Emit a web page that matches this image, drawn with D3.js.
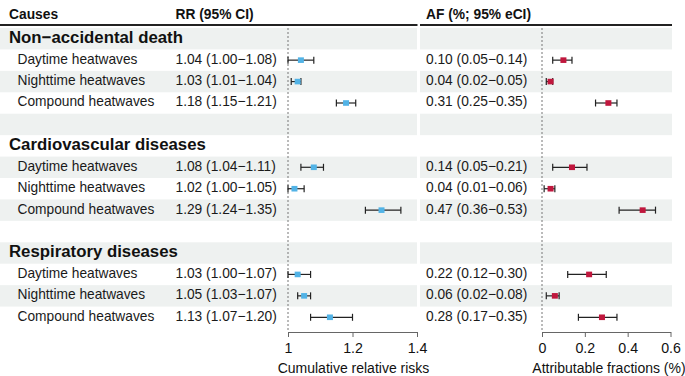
<!DOCTYPE html>
<html>
<head>
<meta charset="utf-8">
<script src="https://cdn.jsdelivr.net/npm/d3@7"></script>
<style>
body{margin:0;background:#fff;}
svg{display:block;font-family:"Liberation Sans",Arial,sans-serif;}
</style>
</head>
<body>
<script>
const W = 685, H = 376;
// data
const causes = ["Non\u2212accidental death", "Cardiovascular diseases", "Respiratory diseases"];
const subtypes = ["Daytime heatwaves", "Nighttime heatwaves", "Compound heatwaves"];
const rr   = [[1.04,1.03,1.18],[1.08,1.02,1.29],[1.03,1.05,1.13]];
const rrLo = [[1.00,1.01,1.15],[1.04,1.00,1.24],[1.00,1.03,1.07]];
const rrHi = [[1.08,1.04,1.21],[1.11,1.05,1.35],[1.07,1.07,1.20]];
const af   = [[0.10,0.04,0.31],[0.14,0.04,0.47],[0.22,0.06,0.28]];
const afLo = [[0.05,0.02,0.25],[0.05,0.01,0.36],[0.12,0.02,0.17]];
const afHi = [[0.14,0.05,0.35],[0.21,0.06,0.53],[0.30,0.08,0.35]];
const rrTicks = [1, 1.2, 1.4];
const afTicks = [0, 0.2, 0.4, 0.6];

const fmt = d3.format(".2f");
const ci = (v, lo, hi) => fmt(v) + " (" + fmt(lo) + "\u2212" + fmt(hi) + ")";

// build rows: group header, 3 subtypes, blank
let rows = [];
causes.forEach((c, g) => {
    rows.push({type: "group", label: c});
    subtypes.forEach((s, i) => {
        rows.push({type: "item", label: s, rr: rr[g][i], rrLo: rrLo[g][i], rrHi: rrHi[g][i],
            af: af[g][i], afLo: afLo[g][i], afHi: afHi[g][i]});
    });
    if (g < causes.length - 1) rows.push({type: "blank"});
});

const SVG = d3.select("body").append("svg").attr("width", W).attr("height", H);

const y = d3.scaleBand().domain(d3.range(rows.length)).range([28, 328]);
const xRR = d3.scaleLinear().domain([1, 1.4]).range([288, 417]);
const xAF = d3.scaleLinear().domain([0, 0.6]).range([542, 670.5]);

// striped backgrounds
rows.forEach((r, i) => {
    if (i % 2 == 0) {
        SVG.append("rect").attr("x", 0).attr("y", y(i)).attr("width", 417).attr("height", y.bandwidth()).attr("fill", "#eef1f0");
        SVG.append("rect").attr("x", 420).attr("y", y(i)).attr("width", 252).attr("height", y.bandwidth()).attr("fill", "#eef1f0");
    }
});

// header
SVG.append("text").attr("x", 9).attr("y", 18.5).attr("font-size", 13.8).attr("font-weight", "bold").attr("fill", "#111").text("Causes");
SVG.append("text").attr("x", 175.5).attr("y", 18.5).attr("font-size", 13.8).attr("font-weight", "bold").attr("fill", "#111").text("RR (95% CI)");
SVG.append("text").attr("x", 426).attr("y", 18.5).attr("font-size", 13.8).attr("font-weight", "bold").attr("fill", "#111").text("AF (%; 95% eCI)");
SVG.append("line").attr("x1", 0).attr("x2", 417.5).attr("y1", 25).attr("y2", 25).attr("stroke", "#222").attr("stroke-width", 1.8);
SVG.append("line").attr("x1", 420).attr("x2", 672).attr("y1", 25).attr("y2", 25).attr("stroke", "#222").attr("stroke-width", 1.8);

// reference lines
SVG.append("line").attr("x1", xRR(1)).attr("x2", xRR(1)).attr("y1", 28).attr("y2", 332)
    .attr("stroke", "#777").attr("stroke-width", 1).attr("stroke-dasharray", "2,2");
SVG.append("line").attr("x1", xAF(0)).attr("x2", xAF(0)).attr("y1", 28).attr("y2", 332)
    .attr("stroke", "#777").attr("stroke-width", 1).attr("stroke-dasharray", "2,2");

// row labels
rows.forEach((r, i) => {
    let top = y(i);
    if (r.type == "group") {
        SVG.append("text").attr("x", 9).attr("y", top + 15).attr("font-size", 16.8).attr("font-weight", "bold").attr("fill", "#111").text(r.label);
    } else if (r.type == "item") {
        SVG.append("text").attr("x", 17.5).attr("y", top + 14.2).attr("font-size", 13.75).attr("fill", "#1a1a1a").text(r.label);
        SVG.append("text").attr("x", 175.5).attr("y", top + 14.2).attr("font-size", 13.75).attr("fill", "#1a1a1a").text(ci(r.rr, r.rrLo, r.rrHi));
        SVG.append("text").attr("x", 426).attr("y", top + 14.2).attr("font-size", 13.75).attr("fill", "#1a1a1a").text(ci(r.af, r.afLo, r.afHi));
    }
});

// forest marks
let drawCI = (x, lo, hi, v, cy, color) => {
    let g = SVG.append("g");
    g.append("line").attr("x1", x(lo)).attr("x2", x(hi)).attr("y1", cy).attr("y2", cy).attr("stroke", "#222").attr("stroke-width", 1.2);
    [lo, hi].forEach(e => {
        g.append("line").attr("x1", x(e)).attr("x2", x(e)).attr("y1", cy - 3.5).attr("y2", cy + 3.5).attr("stroke", "#222").attr("stroke-width", 1.2);
    });
    g.append("rect").attr("x", x(v) - 3).attr("y", cy - 2.8).attr("width", 6).attr("height", 5.6).attr("fill", color);
};
rows.forEach((r, i) => {
    if (r.type != "item") return;
    let cy = y(i) + y.bandwidth() / 2;
    drawCI(xRR, r.rrLo, r.rrHi, r.rr, cy, "#52b3e6");
    drawCI(xAF, r.afLo, r.afHi, r.af, cy, "#c0173d");
});

// axes
let axisRR = SVG.append("g").attr("transform", "translate(0,332)")
    .call(d3.axisBottom(xRR).tickValues(rrTicks).tickFormat(d3.format("")).tickSize(5).tickSizeOuter(0).tickPadding(6));
let axisAF = SVG.append("g").attr("transform", "translate(0,332)")
    .call(d3.axisBottom(xAF).tickValues(afTicks).tickFormat(d3.format("")).tickSize(5).tickSizeOuter(0).tickPadding(6));
[axisRR, axisAF].forEach(a => {
    a.select(".domain").attr("stroke", "#666");
    a.selectAll(".tick line").attr("stroke", "#666");
    a.selectAll(".tick text").attr("font-size", 14.2).attr("fill", "#111").attr("font-family", "Liberation Sans, Arial, sans-serif");
});
SVG.append("text").attr("x", 353.5).attr("y", 372.5).attr("text-anchor", "middle")
    .attr("font-size", 14).attr("fill", "#111").text("Cumulative relative risks");
SVG.append("text").attr("x", 609).attr("y", 372.5).attr("text-anchor", "middle")
    .attr("font-size", 14).attr("fill", "#111").text("Attributable fractions (%)");
</script>
</body>
</html>
